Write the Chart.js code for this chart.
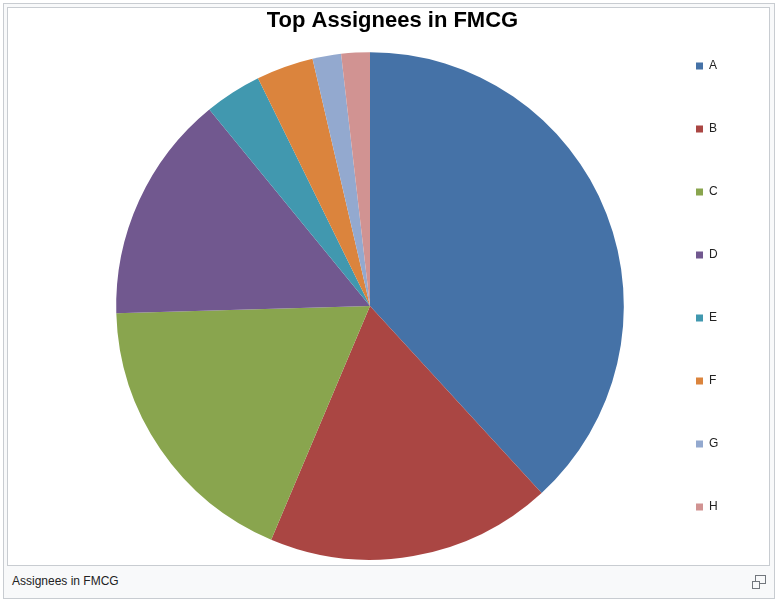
<!DOCTYPE html>
<html>
<head>
<meta charset="utf-8">
<script src="https://cdn.jsdelivr.net/npm/chart.js@4.4.1/dist/chart.umd.min.js"></script>
<style>
  html, body { margin: 0; padding: 0; background: #ffffff; }
  #outer { position: absolute; left: 3px; top: 3px; width: 770px; height: 594px; background: #f8f9fa; border: 1px solid #c8ccd1; }
  #inner { position: absolute; left: 3px; top: 3px; width: 761px; height: 557px; background: #ffffff; border: 1px solid #c8ccd1; }
  #c { display: block; }
  #caption { position: absolute; left: 8px; top: 567px; font-family: "Liberation Sans", Arial, sans-serif; font-size: 12px; color: #222; line-height: 20px; }
  .mag1 { position: absolute; left: 748px; top: 577px; width: 6px; height: 6px; border: 1px solid #72777d; background: #f8f9fa; }
  .mag2 { position: absolute; left: 751px; top: 571px; width: 9px; height: 7px; border: 1px solid #72777d; background: #f8f9fa; }
</style>
</head>
<body>
<div id="outer">
  <div id="inner"><canvas id="c" width="761" height="557"></canvas></div>
  <div id="caption">Assignees in FMCG</div>
  <div class="mag2"></div>
  <div class="mag1"></div>
</div>
<script>
const titleText = "Top Assignees in FMCG";
const categories = ["A", "B", "C", "D", "E", "F", "G", "H"];
const values = [210, 100, 100, 80, 20, 20, 10, 10];
const colors = ["#4572A7", "#AA4643", "#89A54E", "#71588F", "#4198AF", "#DB843D", "#93A9CF", "#D19392"];

const FONT = "'Liberation Sans', Arial, sans-serif";

new Chart(document.getElementById("c"), {
  type: "pie",
  data: {
    labels: categories,
    datasets: [{
      data: values,
      backgroundColor: colors,
      borderWidth: 0,
      radius: "98%"
    }]
  },
  options: {
    responsive: false,
    devicePixelRatio: 1,
    animation: false,
    layout: { padding: { left: 48.66, right: 40.66, top: 0, bottom: 0 } },
    plugins: {
      title: {
        display: true,
        text: titleText,
        color: "#000000",
        font: { family: FONT, size: 22, weight: "bold", lineHeight: 1.2 },
        padding: { top: 0, bottom: 12.6 }
      },
      subtitle: {
        // empty left spacer box: keeps the pie left of the page-centred title
        display: true,
        position: "left",
        fullSize: false,
        text: "",
        font: { family: FONT, size: 10, lineHeight: 1 },
        padding: { top: 14.17, bottom: 14.17 }
      },
      legend: {
        display: true,
        position: "right",
        align: "center",
        labels: {
          boxWidth: 7,
          boxHeight: 7,
          padding: 51,
          color: "#222222",
          font: { family: FONT, size: 12 }
        }
      },
      tooltip: { enabled: false }
    }
  }
});
</script>
</body>
</html>
